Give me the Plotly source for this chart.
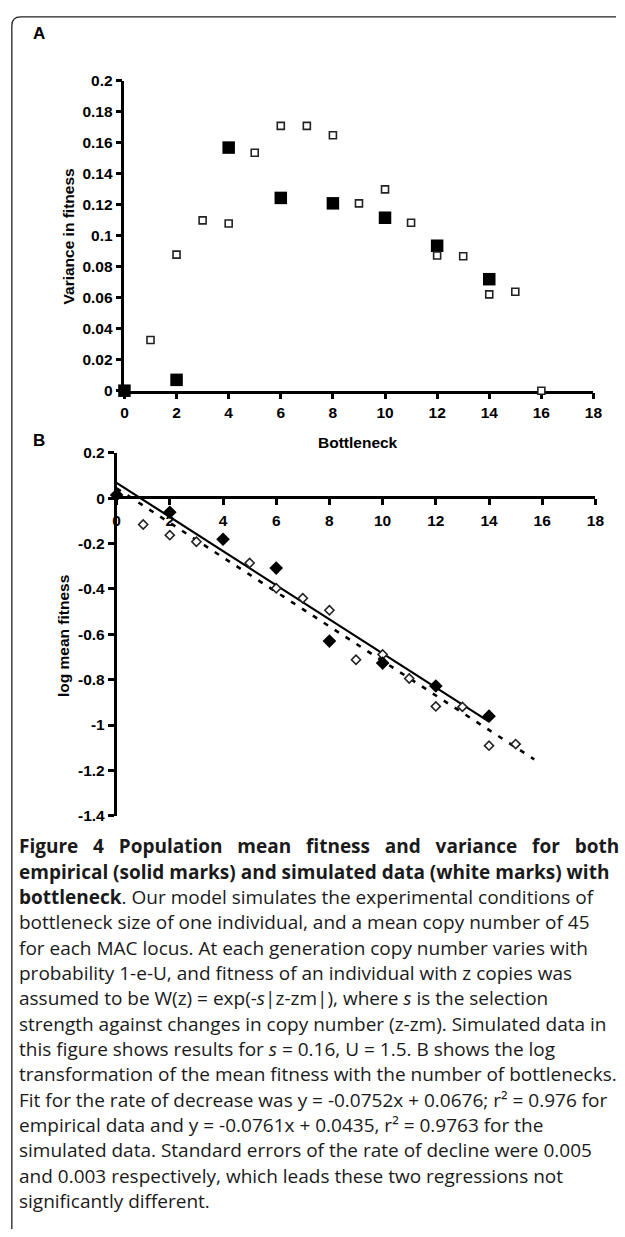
import plotly.graph_objects as go

W, H = 625, 1237

# ---------------- data ----------------
# Panel A: variance in fitness vs bottleneck
a_emp_x = [0, 2, 4, 6, 8, 10, 12, 14]
a_emp_y = [0.0, 0.007, 0.157, 0.1245, 0.121, 0.1117, 0.0936, 0.072]
a_sim_x = [1, 2, 3, 4, 5, 6, 7, 8, 9, 10, 11, 12, 13, 14, 15, 16]
a_sim_y = [0.0327, 0.0879, 0.110, 0.108, 0.1537, 0.171, 0.171, 0.165,
           0.121, 0.130, 0.1085, 0.0873, 0.0868, 0.0622, 0.0639, 0.0]

# Panel B: log mean fitness vs bottleneck
b_emp_x = [0, 2, 4, 6, 8, 10, 12, 14]
b_emp_y = [0.014, -0.062, -0.181, -0.308, -0.630, -0.727, -0.828, -0.961]
b_sim_x = [1, 2, 3, 4, 5, 6, 7, 8, 9, 10, 11, 12, 13, 14, 15]
b_sim_y = [-0.116, -0.163, -0.192, -0.182, -0.286, -0.397, -0.441, -0.494,
           -0.712, -0.689, -0.795, -0.918, -0.920, -1.091, -1.084]

# regression lines (endpoints)
b_emp_fit_x = [0, 14]
b_emp_fit_y = [0.0676, -0.9852]
b_sim_fit_x = [0, 15.7]
b_sim_fit_y = [0.0435, -1.1513]

# tick labels
a_xticks = [0, 2, 4, 6, 8, 10, 12, 14, 16, 18]
a_yticks = [0, 0.02, 0.04, 0.06, 0.08, 0.1, 0.12, 0.14, 0.16, 0.18, 0.2]
a_ytext = ["0", "0.02", "0.04", "0.06", "0.08", "0.1", "0.12", "0.14", "0.16", "0.18", "0.2"]
b_xticks = [0, 2, 4, 6, 8, 10, 12, 14, 16, 18]
b_yticks = [0.2, 0, -0.2, -0.4, -0.6, -0.8, -1.0, -1.2, -1.4]
b_ytext = ["0.2", "0", "-0.2", "-0.4", "-0.6", "-0.8", "-1", "-1.2", "-1.4"]

NB = "\u00a0"
caption_lines = [
    "<b>" + (" " + NB * 2).join("Figure 4 Population mean fitness and variance for both".split(" ")) + "</b>",
    "<b>empirical (solid marks) and simulated data (white marks) with</b>",
    "<b>bottleneck</b>. Our model simulates the experimental conditions of",
    "bottleneck size of one individual, and a mean copy number of 45",
    "for each MAC locus. At each generation copy number varies with",
    "probability 1-e-U, and fitness of an individual with z copies was",
    "assumed to be W(z) = exp(-<i>s</i>|z-zm|), where <i>s</i> is the selection",
    "strength against changes in copy number (z-zm). Simulated data in",
    "this figure shows results for <i>s</i> = 0.16, U = 1.5. B shows the log",
    "transformation of the mean fitness with the number of bottlenecks.",
    "Fit for the rate of decrease was y = -0.0752x + 0.0676; r\u00b2 = 0.976 for",
    "empirical data and y = -0.0761x + 0.0435, r\u00b2 = 0.9763 for the",
    "simulated data. Standard errors of the rate of decline were 0.005",
    "and 0.003 respectively, which leads these two regressions not",
    "significantly different.",
]

# ---------------- helpers ----------------
def px(p):
    return p / W

def py(p):
    return 1 - p / H

BOLD = dict(family="Liberation Sans, Arial", color="black", weight="bold")
TICKFONT = dict(size=15.5, **BOLD)

fig = go.Figure()

# Panel A traces
fig.add_trace(go.Scatter(x=a_emp_x, y=a_emp_y, mode="markers", xaxis="x", yaxis="y",
                         marker=dict(symbol="square", size=12.5, color="black"),
                         cliponaxis=False, showlegend=False))
fig.add_trace(go.Scatter(x=a_sim_x, y=a_sim_y, mode="markers", xaxis="x", yaxis="y",
                         marker=dict(symbol="square", size=7, color="white",
                                     line=dict(color="#222", width=1.6)),
                         cliponaxis=False, showlegend=False))

# Panel B traces
fig.add_trace(go.Scatter(x=b_sim_fit_x, y=b_sim_fit_y, mode="lines", xaxis="x2", yaxis="y2",
                         line=dict(color="black", width=2.6, dash="5px,8px"),
                         showlegend=False))
fig.add_trace(go.Scatter(x=b_emp_fit_x, y=b_emp_fit_y, mode="lines", xaxis="x2", yaxis="y2",
                         line=dict(color="black", width=2.2),
                         showlegend=False))
fig.add_trace(go.Scatter(x=b_sim_x, y=b_sim_y, mode="markers", xaxis="x2", yaxis="y2",
                         marker=dict(symbol="diamond", size=7, color="white",
                                     line=dict(color="#222", width=1.6)),
                         cliponaxis=False, showlegend=False))
fig.add_trace(go.Scatter(x=b_emp_x, y=b_emp_y, mode="markers", xaxis="x2", yaxis="y2",
                         marker=dict(symbol="diamond", size=10.5, color="black"),
                         cliponaxis=False, showlegend=False))

axis_common = dict(showgrid=False, zeroline=False, showline=True, linecolor="black",
                   linewidth=2.5, ticks="outside", ticklen=6, tickwidth=2.5,
                   tickcolor="black", tickfont=TICKFONT, layer="below traces")

fig.update_layout(
    width=W, height=H,
    margin=dict(l=0, r=0, t=0, b=0),
    paper_bgcolor="white", plot_bgcolor="rgba(0,0,0,0)",
    xaxis=dict(domain=[px(123), px(602)], range=[0, 18], anchor="y",
               tickvals=a_xticks, ticktext=[str(v) for v in a_xticks],
               ticklabelstandoff=0, **axis_common),
    yaxis=dict(domain=[py(387), py(73)], range=[0, 0.2], anchor="x",
               tickvals=a_yticks, ticktext=a_ytext, **axis_common),
    xaxis2=dict(domain=[px(115), px(604)], range=[0, 18], anchor="free", position=py(495),
                tickvals=b_xticks, ticktext=[str(v) for v in b_xticks],
                ticklabelstandoff=2, **axis_common),
    yaxis2=dict(domain=[py(818), py(450)], range=[-1.4, 0.2], anchor="x2",
                tickvals=b_yticks, ticktext=b_ytext, **axis_common),
)

ann = []
ann.append(dict(text="A", x=px(36), y=py(25), xref="paper", yref="paper", showarrow=False,
                xanchor="center", yanchor="middle", font=dict(size=17, **BOLD)))
ann.append(dict(text="B", x=px(36), y=py(438), xref="paper", yref="paper", showarrow=False,
                xanchor="center", yanchor="middle", font=dict(size=17, **BOLD)))
ann.append(dict(text="Bottleneck", x=px(362), y=py(440), xref="paper", yref="paper", showarrow=False,
                xanchor="center", yanchor="middle", font=dict(size=15.5, **BOLD)))
ann.append(dict(text="Variance in fitness", x=px(66), y=py(231), xref="paper", yref="paper",
                showarrow=False, textangle=-90, xanchor="center", yanchor="middle",
                font=dict(size=15.5, **BOLD)))
ann.append(dict(text="log mean fitness", x=px(61), y=py(636), xref="paper", yref="paper",
                showarrow=False, textangle=-90, xanchor="center", yanchor="middle",
                font=dict(size=15.5, **BOLD)))

y0, dy = 849, 25.7
for i, line in enumerate(caption_lines):
    ann.append(dict(text=line, x=px(13), y=py(y0 + i * dy), xref="paper", yref="paper",
                    xanchor="left", yanchor="middle", showarrow=False,
                    font=dict(family="Open Sans", size=19, color="#1a1a1a")))
fig.update_layout(annotations=ann)

# frame border with rounded top-left corner
x1, y1, r = 8, 8, 9
path = (f"M {px(x1)},{py(H)} L {px(x1)},{py(y1 + r)} "
        f"Q {px(x1)},{py(y1)} {px(x1 + r)},{py(y1)} L {px(W)},{py(y1)}")
fig.add_shape(type="path", path=path, xref="paper", yref="paper",
              line=dict(color="#222", width=1.3))

fig.write_html("out.html")
